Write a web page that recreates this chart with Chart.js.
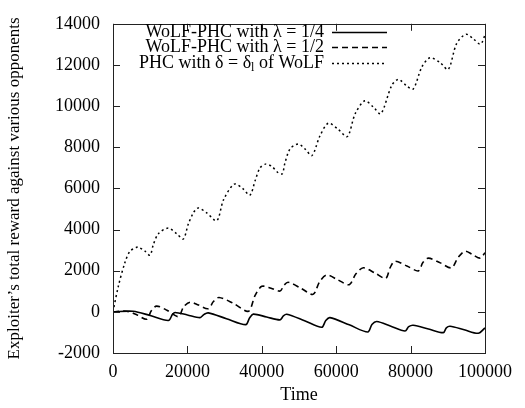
<!DOCTYPE html>
<html>
<head>
<meta charset="utf-8">
<script src="https://cdn.jsdelivr.net/npm/chart.js@4/dist/chart.umd.min.js"></script>
<style>
  html, body { margin: 0; padding: 0; background: #fff; }
  #wrap { width: 525px; height: 408px; }
</style>
</head>
<body>
<div id="wrap"><canvas id="rewardChart"></canvas></div>
<script>
// time / reward
const quarterT = [0, 5400, 10000, 14900, 16000, 16700, 20000, 23400, 24500, 25600, 30500, 35700, 36700, 37700, 41300, 44900, 45800, 46700, 51500, 56100, 57200, 58300, 63500, 68500, 69600, 70900, 74700, 78500, 79500, 80700, 84800, 88800, 89600, 90600, 94400, 98200, 100000];
const quarterR = [0, 30, -180, -420, -120, -30, -150, -280, -120, -50, -330, -620, -300, -110, -250, -390, -200, -120, -430, -750, -420, -280, -630, -980, -620, -470, -700, -930, -720, -650, -830, -1010, -780, -700, -870, -1040, -780];

const halfT = [0, 3700, 6500, 9050, 10300, 11700, 14500, 17560, 19000, 20700, 23000, 25600, 27000, 28500, 32500, 36400, 38200, 40000, 42500, 44900, 46000, 47100, 50500, 53800, 55500, 57400, 60500, 63500, 65300, 67300, 70300, 73300, 74500, 75800, 79000, 82100, 83300, 84800, 88000, 91000, 92800, 94600, 96700, 98700, 100000];
const halfR = [0, 30, -150, -360, 50, 280, 80, -230, 250, 470, 330, 150, 500, 700, 400, 30, 800, 1240, 1150, 1010, 1300, 1440, 1150, 850, 1450, 1790, 1550, 1320, 1850, 2140, 1900, 1630, 2150, 2460, 2230, 1990, 2400, 2610, 2380, 2140, 2650, 2950, 2780, 2610, 2870];

const phcT = [0, 1430, 3230, 4570, 6370, 6800, 8600, 9950, 10830, 12200, 14870, 17100, 18900, 20250, 21600, 22900, 25200, 27900, 29700, 32600, 34900, 36800, 38200, 39500, 41000, 42700, 44400, 45500, 46200, 47600, 49800, 51600, 53500, 55600, 57900, 60600, 63000, 65100, 67700, 70000, 72000, 74900, 76700, 78900, 80700, 83000, 85200, 87900, 90100, 92400, 94900, 96900, 98800, 100000];
const phcR = [0, 1240, 2410, 2950, 3140, 3150, 2950, 2750, 3260, 3800, 4070, 3800, 3540, 4270, 4810, 5050, 4810, 4430, 5440, 6210, 5990, 5670, 6370, 6990, 7180, 7070, 6760, 6710, 7220, 7920, 8160, 7920, 7600, 8540, 9170, 8860, 8520, 9630, 10260, 9950, 9630, 10990, 11300, 10990, 10830, 11890, 12350, 12120, 11780, 13050, 13490, 13260, 13010, 13450];

const xTicks = [0, 20000, 40000, 60000, 80000, 100000];
const yTicks = [-2000, 0, 2000, 4000, 6000, 8000, 10000, 12000, 14000];

const serif = 'Liberation Serif';

function pts(t, r) {
  return t.map((v, i) => ({ x: v, y: r[i] }));
}

// gnuplot style frame with inward ticks
const framePlugin = {
  id: 'frame',
  afterDraw(chart) {
    const ctx = chart.ctx;
    const a = chart.chartArea;
    const xs = chart.scales.x, ys = chart.scales.y;
    ctx.save();
    ctx.strokeStyle = '#222';
    ctx.lineWidth = 1;
    ctx.strokeRect(Math.round(a.left) + 0.5, Math.round(a.top) + 0.5, Math.round(a.right - a.left), Math.round(a.bottom - a.top));
    ctx.beginPath();
    xTicks.forEach(v => {
      const px = Math.round(xs.getPixelForValue(v)) + 0.5;
      ctx.moveTo(px, a.bottom); ctx.lineTo(px, a.bottom - 7);
      ctx.moveTo(px, a.top); ctx.lineTo(px, a.top + 7);
    });
    yTicks.forEach(v => {
      const py = Math.round(ys.getPixelForValue(v)) + 0.5;
      ctx.moveTo(a.left, py); ctx.lineTo(a.left + 7, py);
      ctx.moveTo(a.right, py); ctx.lineTo(a.right - 7, py);
    });
    ctx.stroke();
    ctx.restore();
  }
};

// key: right-aligned text with line sample after it
const keyPlugin = {
  id: 'key',
  afterDraw(chart) {
    const ctx = chart.ctx;
    const textRight = 324, lx0 = 332, lx1 = 387;
    const rows = [
      { y: 32, dash: [] },
      { y: 47, dash: [6, 4] },
      { y: 63, dash: [2, 3] }
    ];
    ctx.save();
    ctx.fillStyle = '#000';
    ctx.textBaseline = 'middle';
    ctx.font = '18px "' + serif + '"';
    ctx.textAlign = 'right';
    ctx.fillText('WoLF-PHC with \u03bb = 1/4', textRight, rows[0].y);
    ctx.fillText('WoLF-PHC with \u03bb = 1/2', textRight, rows[1].y);
    // third row has a subscript
    const p1 = 'PHC with \u03b4 = \u03b4', p3 = ' of WoLF';
    ctx.textAlign = 'left';
    const w1 = ctx.measureText(p1).width, w3 = ctx.measureText(p3).width;
    ctx.font = '12px "' + serif + '"';
    const w2 = ctx.measureText('l').width;
    let x = textRight - (w1 + w2 + w3);
    ctx.font = '18px "' + serif + '"';
    ctx.fillText(p1, x, rows[2].y);
    ctx.font = '12px "' + serif + '"';
    ctx.fillText('l', x + w1, rows[2].y + 5);
    ctx.font = '18px "' + serif + '"';
    ctx.fillText(p3, x + w1 + w2, rows[2].y);

    ctx.strokeStyle = '#000';
    ctx.lineWidth = 1.3;
    rows.forEach(r => {
      ctx.setLineDash(r.dash);
      ctx.beginPath();
      ctx.moveTo(lx0, r.y + 0.5);
      ctx.lineTo(lx1, r.y + 0.5);
      ctx.stroke();
    });
    ctx.restore();
  }
};

new Chart(document.getElementById('rewardChart'), {
  type: 'line',
  data: {
    datasets: [
      {
        label: 'WoLF-PHC with \u03bb = 1/4',
        data: pts(quarterT, quarterR),
        borderColor: '#000',
        borderWidth: 1.6,
        pointRadius: 0,
        tension: 0.3
      },
      {
        label: 'WoLF-PHC with \u03bb = 1/2',
        data: pts(halfT, halfR),
        borderColor: '#000',
        borderWidth: 1.6,
        borderDash: [6, 4],
        pointRadius: 0,
        tension: 0.3
      },
      {
        label: 'PHC with \u03b4 = \u03b4l of WoLF',
        data: pts(phcT, phcR),
        borderColor: '#000',
        borderWidth: 1.5,
        borderDash: [2, 3],
        pointRadius: 0,
        tension: 0.3
      }
    ]
  },
  options: {
    responsive: true,
    maintainAspectRatio: false,
    animation: false,
    layout: { padding: { top: 10, right: 40, left: 0, bottom: 0 } },
    plugins: {
      legend: { display: false },
      tooltip: { enabled: false }
    },
    scales: {
      x: {
        type: 'linear',
        min: 0,
        max: 100000,
        afterFit(s) { s.height = 55; },
        afterBuildTicks(s) { s.ticks = xTicks.map(v => ({ value: v })); },
        ticks: {
          color: '#000',
          font: { family: serif, size: 18 },
          padding: 8,
          maxRotation: 0,
          callback: v => String(v)
        },
        grid: { display: false, drawTicks: false },
        border: { display: false },
        title: {
          display: true,
          text: 'Time',
          color: '#000',
          font: { family: serif, size: 18 },
          padding: { top: 0, bottom: 2 }
        }
      },
      y: {
        type: 'linear',
        min: -2000,
        max: 14000,
        afterFit(s) { s.width = 113; },
        afterBuildTicks(s) { s.ticks = yTicks.map(v => ({ value: v })); },
        ticks: {
          color: '#000',
          font: { family: serif, size: 18 },
          padding: 13,
          callback: v => String(v)
        },
        grid: { display: false, drawTicks: false },
        border: { display: false },
        title: {
          display: true,
          text: 'Exploiter\u2019s total reward against various opponents',
          color: '#000',
          font: { family: serif, size: 17 },
          padding: { top: 4, bottom: 0 }
        }
      }
    }
  },
  plugins: [framePlugin, keyPlugin]
});
</script>
</body>
</html>
